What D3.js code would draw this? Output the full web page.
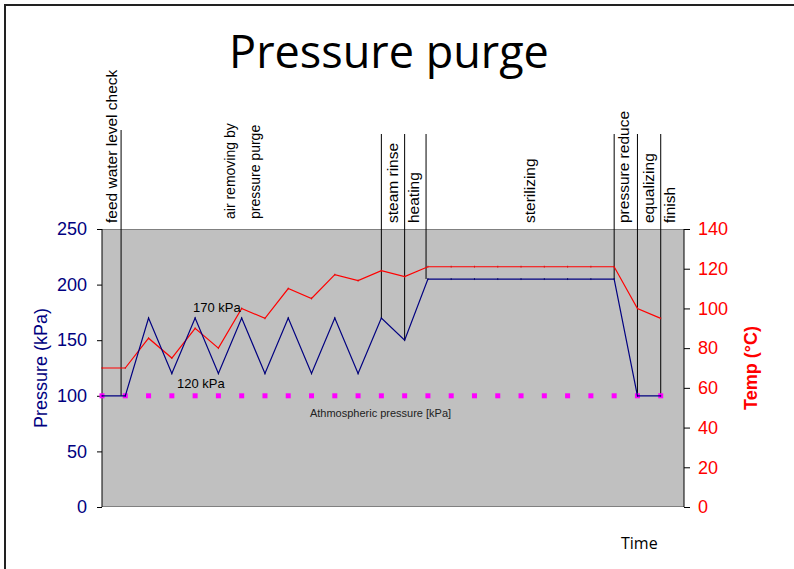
<!DOCTYPE html>
<html>
<head>
<meta charset="utf-8">
<script src="https://cdn.jsdelivr.net/npm/d3@7"></script>
<style>
  body { margin: 0; background: #fff; }
  svg text { font-family: "Liberation Sans", Arial, sans-serif; }
</style>
</head>
<body>
<svg id="chart" width="794" height="569"></svg>
<script>
// time steps (category index), one per reading
const steps = d3.range(25);
// pressure in kPa
const pressure = [100, 100, 170, 120, 170, 120, 170, 120, 170, 120, 170, 120, 170, 150,
    205, 205, 205, 205, 205, 205, 205, 205, 205, 100, 100];
// temperature in deg C
const temp = [70, 70, 85, 75, 90, 80, 100, 95, 110, 105, 117, 114, 119, 116,
    121, 121, 121, 121, 121, 121, 121, 121, 121, 100, 95];
// atmospheric pressure reference
const atmos = steps.map(() => 100);

const pressTicks = [0, 50, 100, 150, 200, 250];
const tempTicks = [0, 20, 40, 60, 80, 100, 120, 140];

// phase boundaries: step index and the pressure where the line stops
const phaseAt = [0.82, 12, 13, 13.92, 22, 23, 24];
const phaseEnd = [100, 170, 150, 205, 205, 100, 100];
const phaseNames = ["feed water level check", "air removing by", "pressure purge", "steam rinse",
    "heating", "sterilizing", "pressure reduce", "equalizing", "finish"];

const svg = d3.select("#chart");
const W = 794, H = 569;
const plot = {left: 102, right: 684, top: 229, bottom: 507};

const x = d3.scaleLinear().domain([0, 25]).range([plot.left, plot.right]);
const yP = d3.scaleLinear().domain([0, 250]).range([plot.bottom, plot.top]);
const yT = d3.scaleLinear().domain([0, 140]).range([plot.bottom, plot.top]);

// outer frame
svg.append("rect")
    .attr("x", 5).attr("y", 5)
    .attr("width", W + 20).attr("height", H + 20)
    .attr("fill", "none").attr("stroke", "#222").attr("stroke-width", 2);

// title
svg.append("text")
    .attr("x", 389).attr("y", 68)
    .attr("text-anchor", "middle")
    .style("font-family", "'Open Sans', sans-serif")
    .attr("font-size", 45)
    .text("Pressure purge");

// plot background
svg.append("rect")
    .attr("x", plot.left).attr("y", plot.top)
    .attr("width", plot.right - plot.left).attr("height", plot.bottom - plot.top)
    .attr("fill", "#c0c0c0");
svg.append("line")
    .attr("x1", plot.left).attr("x2", plot.right)
    .attr("y1", plot.top + 0.5).attr("y2", plot.top + 0.5)
    .attr("stroke", "#808080");
svg.append("line")
    .attr("x1", plot.left).attr("x2", plot.right)
    .attr("y1", plot.bottom - 0.5).attr("y2", plot.bottom - 0.5)
    .attr("stroke", "#808080");

// axes
const leftAxis = svg.append("g")
    .attr("transform", `translate(${plot.left},0)`)
    .call(d3.axisLeft(yP).tickValues(pressTicks).tickSize(5).tickPadding(10));
leftAxis.select(".domain").attr("d", `M0,${plot.top}V${plot.bottom}`);
leftAxis.selectAll("text").attr("fill", "#000080").attr("font-size", 18);

const rightAxis = svg.append("g")
    .attr("transform", `translate(${plot.right},0)`)
    .call(d3.axisRight(yT).tickValues(tempTicks).tickSize(6).tickPadding(8));
rightAxis.select(".domain").attr("d", `M0,${plot.top}V${plot.bottom}`);
rightAxis.selectAll("text").attr("fill", "#ff0000").attr("font-size", 18);

svg.append("text")
    .attr("transform", `translate(47,${(plot.top + plot.bottom) / 2}) rotate(-90)`)
    .attr("text-anchor", "middle")
    .attr("fill", "#000080").attr("font-size", 18)
    .text("Pressure (kPa)");
svg.append("text")
    .attr("transform", `translate(757,${(plot.top + plot.bottom) / 2}) rotate(-90)`)
    .attr("text-anchor", "middle")
    .attr("fill", "#ff0000").attr("font-size", 18).attr("font-weight", "bold")
    .text("Temp (°C)");

svg.append("text")
    .attr("x", 621).attr("y", 549)
    .style("font-family", "'Open Sans', sans-serif")
    .attr("font-size", 16)
    .text("Time");

// phase lines
const bandTop = 134;
svg.append("g").selectAll("line")
    .data(phaseAt)
    .join("line")
    .attr("x1", d => x(d)).attr("x2", d => x(d))
    .attr("y1", (d, i) => i === 0 ? bandTop - 4 : bandTop)
    .attr("y2", (d, i) => yP(phaseEnd[i]))
    .attr("stroke", "#000").attr("stroke-width", 1);

// phase labels (baseline position in step units)
const labelAt = [0.64, 5.71, 6.79, 12.71, 13.62, 18.6, 22.64, 23.71, 24.61];
const labelSize = [15.5, 14, 14, 15.5, 15.5, 15.5, 15.5, 15.5, 15.5];
svg.append("g").selectAll("text")
    .data(phaseNames)
    .join("text")
    .attr("transform", (d, i) => `translate(${x(labelAt[i])},${i === 1 || i === 2 ? 219 : 223}) rotate(-90)`)
    .attr("font-size", (d, i) => labelSize[i])
    .text(d => d);

// atmospheric reference points
svg.append("g").selectAll("rect")
    .data(steps)
    .join("rect")
    .attr("x", d => x(d) - 2.5).attr("y", d => yP(atmos[d]) - 2.5)
    .attr("width", 5).attr("height", 5)
    .attr("fill", "#ff00ff");

// series lines
const pLine = d3.line().x((d, i) => x(i)).y(d => yP(d));
const tLine = d3.line().x((d, i) => x(i)).y(d => yT(d));

svg.append("path")
    .attr("d", tLine(temp))
    .attr("fill", "none").attr("stroke", "#ff0000").attr("stroke-width", 1.2);
svg.append("path")
    .attr("d", pLine(pressure))
    .attr("fill", "none").attr("stroke", "#000080").attr("stroke-width", 1.2);

// faint dash markers on each reading
svg.append("g").selectAll("line")
    .data(steps)
    .join("line")
    .attr("x1", d => x(d)).attr("x2", d => x(d))
    .attr("y1", d => yT(temp[d]) - 1).attr("y2", d => yT(temp[d]) + 1)
    .attr("stroke", "#d01010").attr("stroke-width", 0.8);
svg.append("g").selectAll("line")
    .data(steps)
    .join("line")
    .attr("x1", d => x(d)).attr("x2", d => x(d))
    .attr("y1", d => yP(pressure[d]) - 1).attr("y2", d => yP(pressure[d]) + 1)
    .attr("stroke", "#000060").attr("stroke-width", 0.8);

// annotations
svg.append("text")
    .attr("x", x(3.91)).attr("y", yP(175.4))
    .attr("font-size", 13)
    .text("170 kPa");
svg.append("text")
    .attr("x", x(3.22)).attr("y", yP(107))
    .attr("font-size", 13)
    .text("120 kPa");
svg.append("text")
    .attr("x", x(8.93)).attr("y", yP(81))
    .attr("font-size", 11)
    .attr("fill", "#222")
    .text("Athmospheric pressure [kPa]");
</script>
</body>
</html>
